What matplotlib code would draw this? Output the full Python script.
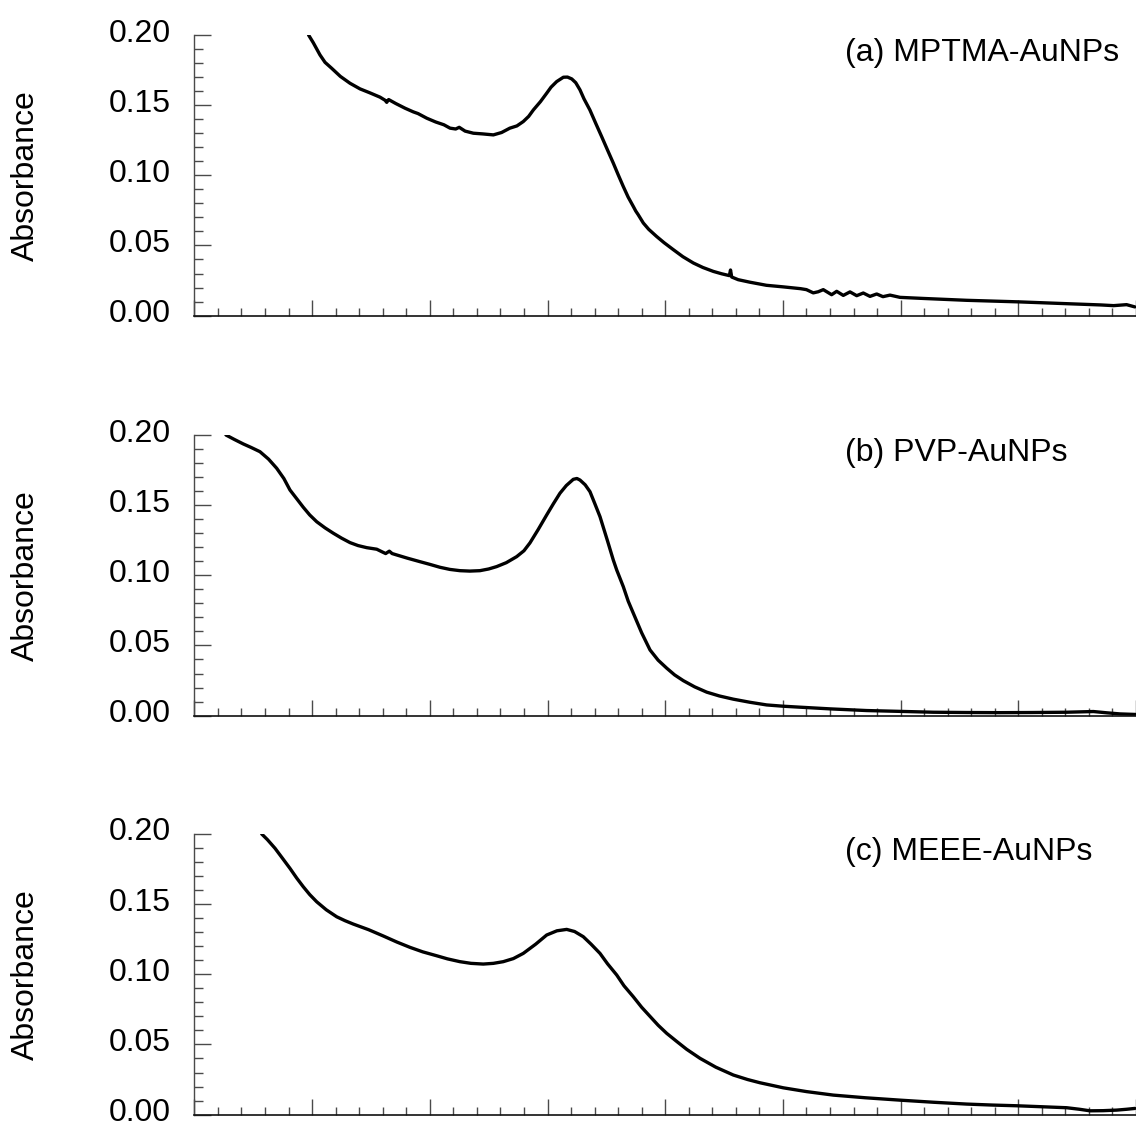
import matplotlib
matplotlib.use("Agg")
import matplotlib.pyplot as plt
from matplotlib.ticker import MultipleLocator, NullFormatter, FixedLocator
from matplotlib.transforms import ScaledTranslation

plt.rcParams['font.family'] = ['Liberation Sans', 'DejaVu Sans']

# ---------------- data ----------------
wl_a = [297, 301, 306.7, 311, 316.6, 324, 332.2, 340.7, 349, 357.7, 362, 363.4, 365, 371, 379,
        386, 390, 397.4, 405, 412, 417.2, 422, 425, 430, 437, 445, 454, 461, 468, 474,
        479.4, 484, 488, 494, 499.3, 503, 507.8, 513.5, 517, 520.6, 524, 527.6, 531, 536,
        541, 546, 551, 555.9, 560, 564.4, 568.5, 572.9, 575, 577, 581.4, 586, 592.7, 599,
        606.9, 615, 623.9, 632, 640.9, 648, 654.5, 655.5, 656.5, 662, 672, 686, 700, 715,
        720, 725.8, 730, 734.3, 741.4, 745.7, 751.3, 757, 762.7, 768.3, 774, 779.7, 785,
        791, 799.5, 820, 856, 900, 941, 970, 981, 992, 999]
abs_a = [0.200, 0.1945, 0.1858, 0.1805, 0.1763, 0.1705, 0.1656, 0.1616, 0.1588, 0.1557, 0.1535,
         0.1520, 0.1540, 0.1512, 0.1478, 0.1452, 0.1440, 0.1407, 0.1380, 0.1360, 0.1336,
         0.1330, 0.1342, 0.1315, 0.1300, 0.1295, 0.1288, 0.1305, 0.1336, 0.1352, 0.1383,
         0.1420, 0.1466, 0.1525, 0.1585, 0.1628, 0.1668, 0.1699, 0.1700, 0.1687, 0.1660,
         0.1609, 0.1545, 0.1466, 0.1370, 0.1276, 0.1180, 0.1087, 0.1005, 0.0920, 0.0845,
         0.0778, 0.0745, 0.0720, 0.0660, 0.0615, 0.0564, 0.0520, 0.0470, 0.0420, 0.0375,
         0.0343, 0.0315, 0.0298, 0.0285, 0.0325, 0.0275, 0.0256, 0.0238, 0.0216, 0.0205,
         0.0192, 0.0185, 0.0162, 0.0170, 0.0185, 0.0149, 0.0173, 0.0144, 0.0169, 0.0142,
         0.0161, 0.0137, 0.0154, 0.0135, 0.0146, 0.0130, 0.0122, 0.0109, 0.0098, 0.0085,
         0.0076, 0.0071, 0.0078, 0.0062]

wl_b = [226.8, 234, 241.6, 248, 255.7, 263, 269.9, 276, 281.2, 287, 292.5, 298, 303.9, 311,
        318, 325, 332.2, 339, 346.4, 354.9, 360, 362.5, 365.6, 368, 371.9, 381, 391.7, 400,
        408.7, 417, 425.6, 434, 442.6, 450, 456.8, 465, 473.8, 480, 485.1, 492, 499.3, 505,
        510.6, 516, 521.9, 525, 527.6, 532, 536.1, 540, 544.6, 551, 555.9, 558.8, 564.4,
        568.6, 572.9, 580, 587.1, 594, 601.3, 608, 615.4, 625, 635.3, 646, 657.9, 672,
        686.2, 700, 714.5, 740, 771.2, 800, 827.8, 856, 884.5, 912, 941.1, 963.8, 975,
        986.4, 1000]
abs_b = [0.2000, 0.1968, 0.1936, 0.1912, 0.1881, 0.1828, 0.1763, 0.1690, 0.1608, 0.1545,
         0.1485, 0.1430, 0.1382, 0.1338, 0.1300, 0.1265, 0.1233, 0.1212, 0.1197, 0.1186,
         0.1165, 0.1155, 0.1172, 0.1155, 0.1145, 0.1122, 0.1097, 0.1078, 0.1057, 0.1042,
         0.1033, 0.1030, 0.1033, 0.1045, 0.1062, 0.1090, 0.1133, 0.1175, 0.1231, 0.1325,
         0.1430, 0.1510, 0.1585, 0.1640, 0.1684, 0.1690, 0.1679, 0.1645, 0.1596, 0.1515,
         0.1418, 0.1245, 0.1109, 0.1038, 0.0919, 0.0815, 0.0730, 0.0590, 0.0468, 0.0395,
         0.0338, 0.0290, 0.0249, 0.0205, 0.0167, 0.0140, 0.0117, 0.0095, 0.0076, 0.0067,
         0.0060, 0.0048, 0.0036, 0.0030, 0.0024, 0.0022, 0.0021, 0.0022, 0.0024, 0.0029,
         0.0020, 0.0012, 0.0008]

wl_c = [257.2, 262, 268.5, 275, 281.2, 287, 292.5, 298, 303.9, 312, 320.9, 328, 335, 348,
        360.5, 372, 383.2, 394, 405.9, 415, 425.6, 435, 445.4, 454, 462.4, 471, 479.4, 490,
        499.3, 508, 516.3, 523, 530.4, 537, 544.6, 551, 558.8, 565, 572.9, 580, 587.1, 594,
        601.3, 610, 618.3, 629.6, 643, 657.9, 670, 680.5, 700.3, 720, 742.8, 770, 799.5,
        828, 856.1, 878, 898.6, 920, 941.1, 952, 960.9, 972, 983.6, 992, 999]
abs_c = [0.2000, 0.1960, 0.1898, 0.1825, 0.1755, 0.1685, 0.1624, 0.1568, 0.1517, 0.1460,
         0.1410, 0.1382, 0.1358, 0.1318, 0.1273, 0.1230, 0.1192, 0.1160, 0.1132, 0.1110,
         0.1090, 0.1078, 0.1073, 0.1078, 0.1090, 0.1112, 0.1149, 0.1215, 0.1280, 0.1310,
         0.1320, 0.1305, 0.1268, 0.1215, 0.1149, 0.1075, 0.0995, 0.0918, 0.0840, 0.0765,
         0.0700, 0.0637, 0.0579, 0.0520, 0.0465, 0.0401, 0.0338, 0.0282, 0.0250, 0.0227,
         0.0191, 0.0164, 0.0139, 0.0120, 0.0103, 0.0088, 0.0075, 0.0068, 0.0063, 0.0056,
         0.0049, 0.0038, 0.0027, 0.0028, 0.0032, 0.0038, 0.0044]

labels = ["(a) MPTMA-AuNPs", "(b) PVP-AuNPs", "(c) MEEE-AuNPs"]
ytick_vals = [0.00, 0.05, 0.10, 0.15, 0.20]
ytick_labels = ["0.00", "0.05", "0.10", "0.15", "0.20"]
ylabel = "Absorbance"

# ---------------- layout ----------------
W, H = 1136, 1122
fig = plt.figure(figsize=(W / 100, H / 100), dpi=100)

left_px, right_px = 194.4, 1136
tops = [35, 435, 834]
height_px = 280.6

series = [(wl_a, abs_a), (wl_b, abs_b), (wl_c, abs_c)]
FS = 23
spine_grey = '#4a4a4a'

for i, ((x, y), lab) in enumerate(zip(series, labels)):
    top = tops[i]
    ax = fig.add_axes([left_px / W, 1 - (top + height_px) / H,
                       (right_px - left_px) / W, height_px / H])
    ax.plot(x, y, color='black', lw=2.4, solid_joinstyle='round', solid_capstyle='round')
    ax.set_xlim(200, 200 + (right_px - left_px) / 117.7 * 100)
    ax.set_ylim(0, 0.2)
    for s in ['top', 'right']:
        ax.spines[s].set_visible(False)
    ax.spines['left'].set_color(spine_grey)
    ax.spines['left'].set_linewidth(1.0)
    ax.spines['bottom'].set_color('#111111')
    ax.spines['bottom'].set_linewidth(1.2)

    ax.xaxis.set_major_locator(MultipleLocator(100))
    ax.xaxis.set_minor_locator(MultipleLocator(20))
    ax.xaxis.set_major_formatter(NullFormatter())
    ax.yaxis.set_major_locator(FixedLocator(ytick_vals))
    ax.yaxis.set_minor_locator(MultipleLocator(0.01))
    ax.set_yticklabels(ytick_labels)

    ax.tick_params(axis='x', which='major', direction='in', length=11.5, width=1.0,
                   color=spine_grey)
    ax.tick_params(axis='x', which='minor', direction='in', length=5.8, width=1.0,
                   color=spine_grey)
    ax.tick_params(axis='y', which='major', direction='in', length=12, width=1.0,
                   color=spine_grey, labelsize=FS, pad=17)
    ax.tick_params(axis='y', which='minor', direction='in', length=6.5, width=1.0,
                   color=spine_grey)

    off = ScaledTranslation(0, 0.05, fig.dpi_scale_trans)
    for t in ax.yaxis.get_major_ticks():
        t.label1.set_transform(t.label1.get_transform() + off)

    ax.text((845 - left_px) / (right_px - left_px), 0.99, lab, transform=ax.transAxes,
            ha='left', va='top', fontsize=FS)

    fig.text(26 / W, 1 - (top + height_px / 2) / H, ylabel, rotation=90,
             ha='center', va='center', fontsize=FS)

fig.savefig("out.png", dpi=100)
